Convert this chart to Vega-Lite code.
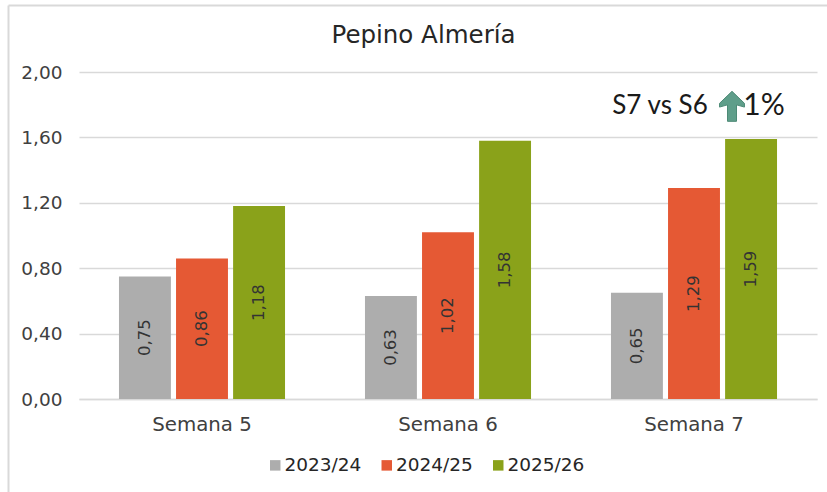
{
"$schema":"https://vega.github.io/schema/vega-lite/v6.json",
"autosize":{"type":"none"},
"padding":{"left":8,"top":5,"right":0,"bottom":0},
"width":819,"height":487,
"background":"white",
"view":{"stroke":null},
"config":{"font":"DejaVu Sans"},
"title":{"text":"Pepino Almería","fontSize":24.5,"fontWeight":"normal","font":"DejaVu Sans","color":"#262626","anchor":"middle","offset":-43,"dx":6},
"data":{"values":[
{"semana":"Semana 5","campana":"2023/24","v":0.75},
{"semana":"Semana 5","campana":"2024/25","v":0.86},
{"semana":"Semana 5","campana":"2025/26","v":1.18},
{"semana":"Semana 6","campana":"2023/24","v":0.63},
{"semana":"Semana 6","campana":"2024/25","v":1.02},
{"semana":"Semana 6","campana":"2025/26","v":1.58},
{"semana":"Semana 7","campana":"2023/24","v":0.65},
{"semana":"Semana 7","campana":"2024/25","v":1.29},
{"semana":"Semana 7","campana":"2025/26","v":1.59}
]},
"layer":[
{"layer":[
{"mark":{"type":"bar"},
"encoding":{
"x":{"field":"semana","type":"nominal","title":null,"sort":null,
 "scale":{"range":[71,809],"paddingInner":0.325,"paddingOuter":0.1625},
 "axis":{"orient":"bottom","offset":-93,"labelAngle":0,"labelFontSize":19.8,"labelFontWeight":"normal","labelColor":"#404040","labelPadding":15,"ticks":false,"domainColor":"#d9d9d9","domainWidth":1.5,"grid":false}},
"xOffset":{"field":"campana","type":"nominal","scale":{"paddingInner":0.09,"paddingOuter":0}},
"y":{"field":"v","type":"quantitative","title":null,"stack":null,
 "scale":{"domain":[0,2],"range":[394,67],"nice":false},
 "axis":{"orient":"left","offset":-71,"values":[0,0.4,0.8,1.2,1.6,2],"labelExpr":"replace(format(datum.value,'.2f'),'.',',')","labelFontSize":18.5,"labelColor":"#404040","labelPadding":17,"ticks":false,"domain":false,"grid":true,"gridColor":"#d9d9d9","gridWidth":1.5}},
"color":{"field":"campana","type":"nominal","title":null,
 "scale":{"domain":["2023/24","2024/25","2025/26"],"range":["#adadad","#e55934","#8aa21a"]},
 "legend":{"orient":"none","legendX":258,"legendY":451,"direction":"horizontal","symbolType":"square","symbolSize":110,"labelFontSize":18.5,"labelColor":"#262626","columnPadding":15.5,"symbolOffset":0,"labelOffset":0}}
}},
{"mark":{"type":"text","angle":270,"fontSize":16.5,"color":"#333333","text":{"expr":"replace(format(datum.v,'.2f'),'.',',')"}},
"encoding":{
"x":{"field":"semana","type":"nominal","sort":null},
"xOffset":{"field":"campana","type":"nominal"},
"detail":{"field":"campana"},
"y":{"field":"v","type":"quantitative","stack":"zero","bandPosition":0.5}
}},
{"data":{"values":[{"semana":"Semana 7","v":1.79,"t":"S7 vs S6"}]},
"mark":{"type":"text","fontSize":26,"font":"Lato","color":"#1a1a1a","dx":-34},
"encoding":{"x":{"field":"semana","type":"nominal","sort":null},"y":{"field":"v","type":"quantitative"},"text":{"field":"t"}}},
{"data":{"values":[{"semana":"Semana 7","v":1.79,"t":"1%"}]},
"mark":{"type":"text","fontSize":30,"font":"Lato","color":"#1a1a1a","dx":70},
"encoding":{"x":{"field":"semana","type":"nominal","sort":null},"y":{"field":"v","type":"quantitative"},"text":{"field":"t"}}},
{"data":{"values":[{"semana":"Semana 7","v":1.79}]},
"mark":{"type":"point","filled":true,"size":900,"xOffset":38,"fill":"#5f9e8a","stroke":"#4d8a76","strokeWidth":1,"opacity":1,
 "shape":"M0,-1 L0.83,-0.2 L0.83,0.05 L0.3,-0.1 L0.3,1 L-0.3,1 L-0.3,-0.1 L-0.83,0.05 L-0.83,-0.2Z"},
"encoding":{"x":{"field":"semana","type":"nominal","sort":null},"y":{"field":"v","type":"quantitative"}}}
]},
{"mark":{"type":"point","opacity":0},
"encoding":{
"x":{"field":"v","type":"quantitative","axis":{"orient":"top","title":null,"labels":false,"ticks":false,"grid":false,"domainColor":"#d9d9d9","domainWidth":2}},
"y":{"field":"v","type":"quantitative","axis":{"orient":"left","title":null,"labels":false,"ticks":false,"grid":false,"domainColor":"#d9d9d9","domainWidth":2}}
}}
],
"resolve":{"scale":{"x":"independent","y":"independent","xOffset":"independent"}}
}
